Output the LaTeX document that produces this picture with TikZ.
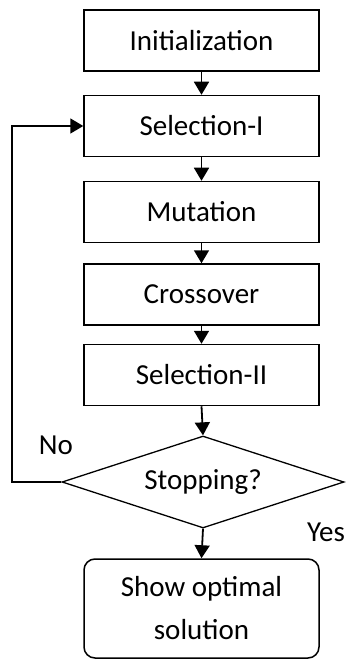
\documentclass[tikz,border=0pt]{standalone}
\usepackage{fontspec}
\setmainfont{Carlito}
\usetikzlibrary{shapes.geometric,arrows.meta}
\begin{document}
\begin{tikzpicture}[x=1pt,y=-1pt,
  every node/.style={font=\fontsize{29}{43}\selectfont},
  procbox/.style={draw,line width=1.5pt,minimum width=235pt,minimum height=61pt,inner sep=0pt},
  endbox/.style={draw,line width=1.5pt,rounded corners=11pt,minimum width=235pt,minimum height=99pt,inner sep=0pt,align=center},
  decbox/.style={draw,line width=1.3pt,shape=diamond,aspect=3.07,minimum width=282pt,minimum height=92pt,inner sep=0pt},
  flow/.style={line width=1.8pt,-{Triangle[length=13pt,width=15pt]}},
  lbl/.style={inner sep=0pt}]
\useasboundingbox (0,0) rectangle (346,660);
\node[procbox] (init) at (201.5,40.5) {Initialization};
\node[procbox] (sel1) at (201.5,126) {Selection-I};
\node[procbox] (mut) at (201.5,212) {Mutation};
\node[procbox] (cross) at (201.5,294.5) {Crossover};
\node[procbox] (sel2) at (201.5,375) {Selection-II};
\node[decbox] (stop) at (203,482) {Stopping?};
\node[endbox] (show) at (201.5,608.5) {Show optimal\\solution};
\coordinate (lb) at (12,482);
\coordinate (lt) at (12,126);
\node[lbl] (no) at (56,445) {No};
\node[lbl] (yes) at (326,532) {Yes};
\draw[flow] (init) -- (sel1);
\draw[flow] (sel1) -- (mut);
\draw[flow] (mut) -- (cross);
\draw[flow] (cross) -- (sel2);
\draw[flow] (sel2.south) -- (stop.north);
\draw[flow] (stop.south) -- (show.north);
\draw[flow] (stop.west) -- (lb) -- (lt) -- (sel1.west);
\end{tikzpicture}
\end{document}
